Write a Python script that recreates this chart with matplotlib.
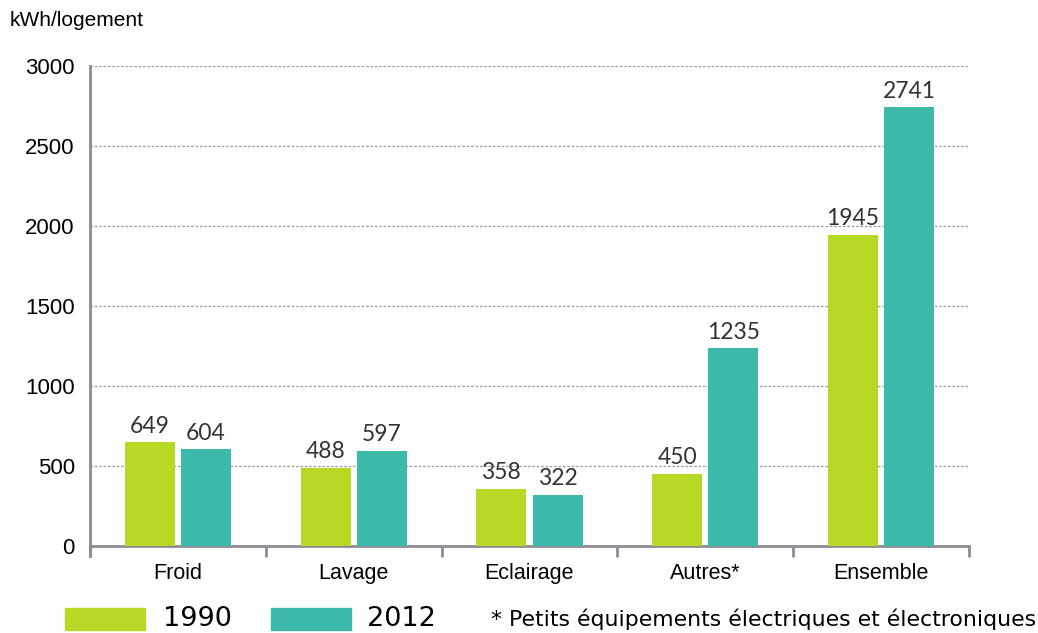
import numpy as np
import matplotlib.pyplot as plt
from matplotlib.patches import Rectangle

categories = ['Froid', 'Lavage', 'Eclairage', 'Autres*', 'Ensemble']
values_1990 = [649, 488, 358, 450, 1945]
values_2012 = [604, 597, 322, 1235, 2741]
series_names = ['1990', '2012']
yticks = [0, 500, 1000, 1500, 2000, 2500, 3000]
ylabel = 'kWh/logement'
footnote = '* Petits équipements électriques et électroniques'

green = '#b5d924'
teal = '#3db9aa'
narrow = ['Liberation Sans', 'DejaVu Sans']

fig = plt.figure(figsize=(10.38, 6.33), dpi=100)
ax = fig.add_axes([0.0867, 0.1374, 0.8468, 0.7583])

x = np.arange(len(categories))
w = 0.284
off = 0.16
b1 = ax.bar(x - off, values_1990, w, color=green, zorder=3)
b2 = ax.bar(x + off, values_2012, w, color=teal, zorder=3)

for bars, vals in ((b1, values_1990), (b2, values_2012)):
    for rect, v in zip(bars, vals):
        ax.annotate(str(v), (rect.get_x() + rect.get_width() / 2, v),
                    xytext=(0, 4), textcoords='offset points',
                    ha='center', va='bottom', fontsize=16.5,
                    family=['Lato', 'DejaVu Sans'], color='#333333')

ax.set_xlim(-0.5, len(categories) - 0.5)
ax.set_ylim(0, 3000)
ax.set_yticks(yticks)
ax.set_yticklabels([str(t) for t in yticks], family=narrow, fontsize=16)
ax.set_xticks(x)
ax.set_xticklabels(categories, family=narrow, fontsize=15.5)
ax.tick_params(axis='x', length=0, pad=12)
ax.tick_params(axis='y', length=0, pad=11)
# boundary ticks under x axis
ax.set_xticks(np.arange(-0.5, len(categories)), minor=True)
ax.tick_params(axis='x', which='minor', length=8, width=2, color='#8a8d94')

for t in yticks[1:]:
    ax.axhline(t, color='#999999', lw=0.9, ls=(0, (2, 1.5)), zorder=1)

for s in ('top', 'right'):
    ax.spines[s].set_visible(False)
for s in ('left', 'bottom'):
    ax.spines[s].set_color('#8a8d94')
    ax.spines[s].set_linewidth(2)
ax.spines['left'].set_bounds(-60, 3000)

fig.text(0.0096, 0.968, ylabel, family=narrow, fontsize=15, ha='left', va='center')

# legend
fig.patches.append(Rectangle((0.0626, 0.0047), 0.0771, 0.0348, color=green, transform=fig.transFigure))
fig.text(0.157, 0.022, series_names[0], fontsize=19.5, va='center')
fig.patches.append(Rectangle((0.261, 0.0047), 0.0771, 0.0348, color=teal, transform=fig.transFigure))
fig.text(0.354, 0.022, series_names[1], fontsize=19.5, va='center')
fig.text(0.473, 0.022, footnote, fontsize=15.8, va='center')

fig.savefig('out.png', dpi=100)
